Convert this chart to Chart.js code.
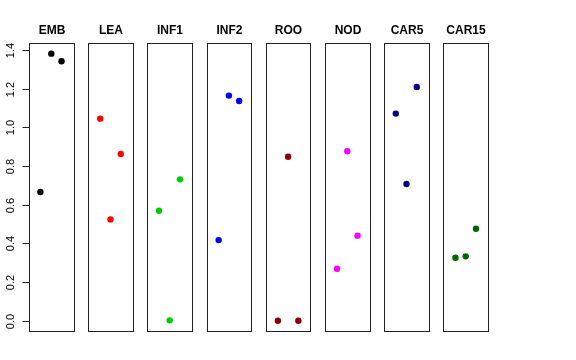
<!DOCTYPE html>
<html lang="en">
<head>
<meta charset="UTF-8">
<title>Strip panels</title>
<style>
body { margin: 0; background: #fff; }
#wrap { width: 576px; height: 360px; }
</style>
</head>
<body>
<div id="wrap"><canvas id="chart" width="576" height="360"></canvas></div>
<script src="https://cdn.jsdelivr.net/npm/chart.js"></script>
<script>
const groups = ['EMB', 'LEA', 'INF1', 'INF2', 'ROO', 'NOD', 'CAR5', 'CAR15'];
const colors = ['#000000', '#ff0000', '#00cd00', '#0000ff', '#8b0000', '#ff00ff', '#000080', '#006400'];
const values = [
    [0.666, 1.381, 1.342],
    [1.045, 0.524, 0.862],
    [0.569, 0.002, 0.731],
    [0.417, 1.164, 1.136],
    [0.0, 0.848, 0.0],
    [0.269, 0.876, 0.44],
    [1.071, 0.707, 1.209],
    [0.326, 0.333, 0.476]
];
// horizontal jitter inside each panel (-1 left edge .. 1 right edge)
const jitter = [
    [-0.49, 0.0, 0.46],
    [-0.46, 0.0, 0.46],
    [-0.48, 0.0, 0.46],
    [-0.46, 0.0, 0.46],
    [-0.46, 0.0, 0.46],
    [-0.46, 0.0, 0.46],
    [-0.48, 0.0, 0.46],
    [-0.46, 0.0, 0.46]
];
const yTicks = [0, 0.2, 0.4, 0.6, 0.8, 1.0, 1.2, 1.4];
const halfW = 0.3765;

const datasets = groups.map((g, i) => ({
    label: g,
    data: values[i].map((v, j) => ({ x: i + jitter[i][j] * halfW, y: v })),
    backgroundColor: colors[i],
    borderColor: colors[i],
    pointRadius: 3.2,
    pointHoverRadius: 3.2,
    borderWidth: 0
}));

const panelPlugin = {
    id: 'panels',
    beforeDatasetsDraw(chart) {
        const ctx = chart.ctx;
        const xs = chart.scales.x, ys = chart.scales.y;
        const top = chart.chartArea.top, bottom = chart.chartArea.bottom;
        ctx.save();
        ctx.strokeStyle = '#222';
        ctx.lineWidth = 1;
        groups.forEach((g, i) => {
            const l = Math.round(xs.getPixelForValue(i - halfW)) + 0.5;
            const r = Math.round(xs.getPixelForValue(i + halfW)) + 0.5;
            ctx.strokeRect(l, Math.round(top) + 0.5, r - l, Math.round(bottom - top));
            ctx.fillStyle = '#000';
            ctx.font = 'bold 12px "Liberation Sans", Arial, sans-serif';
            ctx.textAlign = 'center';
            ctx.textBaseline = 'alphabetic';
            ctx.fillText(g, (l + r) / 2, 34);
        });
        // y axis on the left of first panel
        const ax = Math.round(xs.getPixelForValue(-halfW)) + 0.5;
        const y0 = ys.getPixelForValue(yTicks[0]);
        const y1 = ys.getPixelForValue(yTicks[yTicks.length - 1]);
        ctx.beginPath();
        ctx.moveTo(ax, Math.round(y0) + 0.5);
        ctx.lineTo(ax, Math.round(y1) + 0.5);
        ctx.font = '11px "Liberation Sans", Arial, sans-serif';
        ctx.textAlign = 'center';
        ctx.textBaseline = 'middle';
        yTicks.forEach(t => {
            const py = Math.round(ys.getPixelForValue(t)) + 0.5;
            ctx.moveTo(ax, py);
            ctx.lineTo(ax - 7, py);
            ctx.save();
            ctx.translate(11, py);
            ctx.rotate(-Math.PI / 2);
            ctx.fillText(t.toFixed(1), 0, 0);
            ctx.restore();
        });
        ctx.stroke();
        ctx.restore();
    }
};

new Chart(document.getElementById('chart'), {
    type: 'scatter',
    data: { datasets: datasets },
    options: {
        responsive: false,
        animation: false,
        clip: false,
        layout: { padding: { left: 29, right: 88, top: 43, bottom: 29 } },
        plugins: { legend: { display: false }, tooltip: { enabled: false } },
        scales: {
            x: { type: 'linear', display: false, min: -halfW, max: 7 + halfW },
            y: { type: 'linear', display: false, min: -0.053, max: 1.436 }
        }
    },
    plugins: [panelPlugin]
});
</script>
</body>
</html>
